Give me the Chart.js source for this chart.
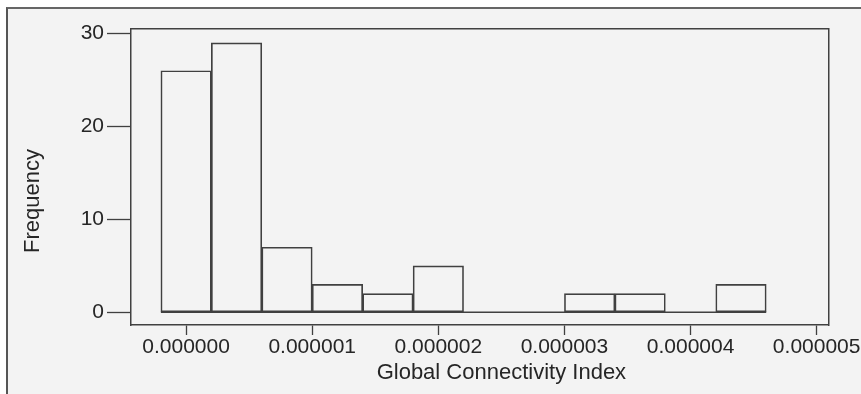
<!DOCTYPE html>
<html>
<head>
<meta charset="utf-8">
<script src="https://cdn.jsdelivr.net/npm/chart.js@4/dist/chart.umd.min.js"></script>
<style>
  html, body { margin: 0; padding: 0; background: #ffffff; overflow: hidden; }
  #panel { position: absolute; left: 6px; top: 7px; width: 900px; height: 400px;
           background: #f3f3f3; border-top: 2px solid #666; border-left: 2px solid #555; }
  #c { position: absolute; left: 0; top: 0; }
</style>
</head>
<body>
<div id="panel"></div>
<canvas id="c" width="861" height="394"></canvas>
<script>
// ---- data ----
const binCenters = [0, 0.0000004, 0.0000008, 0.0000012, 0.0000016, 0.000002,
                    0.0000024, 0.0000028, 0.0000032, 0.0000036, 0.000004, 0.0000044];
const frequencies = [26, 29, 7, 3, 2, 5, 0, 0, 2, 2, 0, 3];
const baselineExtent = [-0.0000002, 0.0000046];
const xTicks = [0, 0.000001, 0.000002, 0.000003, 0.000004, 0.000005];
const yTicks = [0, 10, 20, 30];
const xRange = [-0.000000437, 0.000005093];
const yRange = [-1.37, 30.5];
const xTitle = 'Global Connectivity Index';
const yTitle = 'Frequency';

const ink = '#262626';
const lineCol = '#404040';
const tickFont = { family: '"Liberation Sans", Arial, sans-serif', size: 21 };

const axisTitles = {
  id: 'axisTitles',
  afterDraw(chart) {
    const { ctx } = chart;
    const xs = chart.scales.x;
    ctx.save();
    ctx.fillStyle = ink;
    ctx.font = '22px "Liberation Sans", Arial, sans-serif';
    ctx.textAlign = 'center';
    ctx.textBaseline = 'middle';
    const midX = xs.getPixelForValue((xTicks[0] + xTicks[xTicks.length - 1]) / 2);
    ctx.fillText(xTitle, midX, 373);
    ctx.translate(33, 201);
    ctx.rotate(-Math.PI / 2);
    ctx.fillText(yTitle, 0, 0);
    ctx.restore();
  }
};

new Chart(document.getElementById('c'), {
  type: 'bar',
  data: {
    datasets: [
      {
        type: 'bar',
        xAxisID: 'x', yAxisID: 'y',
        data: binCenters.map((c, i) => ({ x: c, y: frequencies[i] })),
        backgroundColor: 'rgba(0,0,0,0)',
        borderColor: lineCol,
        borderWidth: 1,
        borderSkipped: false,
        barPercentage: 1,
        categoryPercentage: 1,
        grouped: false
      },
      {
        type: 'line',
        xAxisID: 'x', yAxisID: 'y',
        data: baselineExtent.map(v => ({ x: v, y: 0 })),
        borderColor: lineCol,
        borderWidth: 1.4,
        pointRadius: 0,
        fill: false
      }
    ]
  },
  options: {
    responsive: false,
    animation: false,
    events: [],
    layout: { padding: { top: 29, right: 30, left: 0, bottom: 0 } },
    plugins: { legend: { display: false }, tooltip: { enabled: false }, title: { display: false } },
    scales: {
      x: {
        type: 'linear', position: 'bottom', offset: false,
        min: xRange[0], max: xRange[1],
        afterBuildTicks: s => { s.ticks = xTicks.map(v => ({ value: v })); },
        afterFit: s => { s.height = 69; },
        ticks: {
          autoSkip: false, maxRotation: 0, minRotation: 0, padding: 0,
          color: ink, font: tickFont,
          callback: v => Number(v).toFixed(6)
        },
        grid: { display: true, offset: false, drawOnChartArea: false, drawTicks: true,
                tickLength: 10, tickColor: lineCol, tickWidth: 1.3 },
        border: { display: true, color: lineCol, width: 1.5 }
      },
      y: {
        type: 'linear', position: 'left',
        min: yRange[0], max: yRange[1],
        afterBuildTicks: s => { s.ticks = yTicks.map(v => ({ value: v })); },
        afterFit: s => { s.width = 131; },
        ticks: { padding: 3, color: ink, font: tickFont, callback: v => String(v) },
        grid: { display: true, drawOnChartArea: false, drawTicks: true,
                tickLength: 24, tickColor: lineCol, tickWidth: 1.3 },
        border: { display: true, color: lineCol, width: 1.5 }
      },
      x2: {
        type: 'linear', position: 'top',
        afterFit: s => { s.height = 0; },
        ticks: { display: false },
        grid: { display: false, drawTicks: false },
        border: { display: true, color: lineCol, width: 1.5 }
      },
      y2: {
        type: 'linear', position: 'right',
        afterFit: s => { s.width = 0; },
        ticks: { display: false },
        grid: { display: false, drawTicks: false },
        border: { display: true, color: lineCol, width: 1.5 }
      }
    }
  },
  plugins: [axisTitles]
});
</script>
</body>
</html>
